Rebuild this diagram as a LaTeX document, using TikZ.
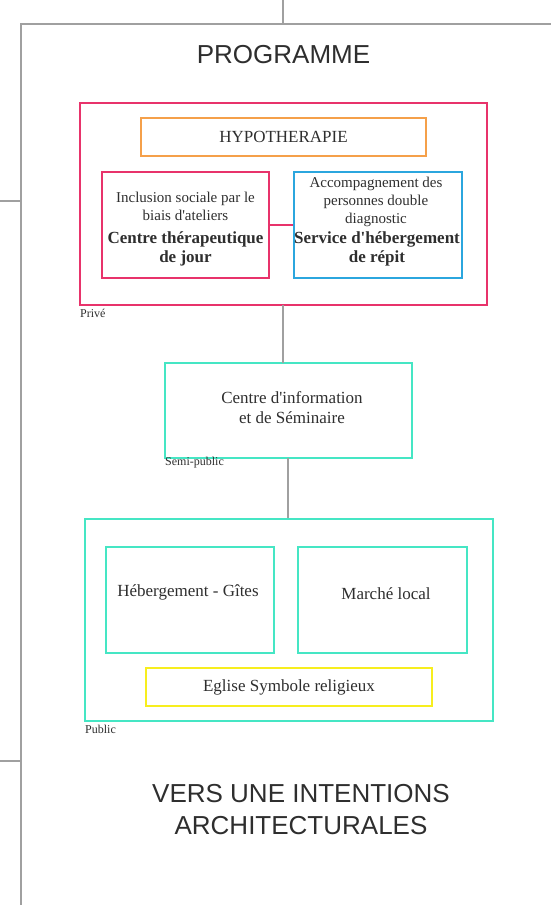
\documentclass[tikz,border=0pt]{standalone}
\usepackage{fontspec}
\setmainfont{Liberation Serif}[Ligatures=TeXOff]
\newfontfamily\titlefont{Liberation Sans}
\definecolor{txt}{HTML}{2E2E2E}
\definecolor{pinkc}{HTML}{E8336B}
\definecolor{orangec}{HTML}{F5A04A}
\definecolor{bluec}{HTML}{2BA6DE}
\definecolor{tealc}{HTML}{45E6C4}
\definecolor{yellowc}{HTML}{F7EE1E}
\definecolor{grayline}{HTML}{A0A0A0}
\begin{document}
\begin{tikzpicture}[x=1pt,y=-1pt,
  box/.style={draw=#1,line width=2pt,rectangle,inner sep=0pt,text=txt,align=center},
  gline/.style={draw=grayline,line width=1.5pt},
  zone/.style={text=txt,font=\fontsize{12}{13}\selectfont,anchor=north west,inner sep=0pt},
  title/.style={text=txt,font=\titlefont\fontsize{26}{32}\selectfont,align=center,inner sep=0pt},
  reg/.style={font=\fontsize{17}{20}\selectfont},
  small/.style={font=\fontsize{15}{18}\selectfont}]
\useasboundingbox (0,0) rectangle (551,905);
% frame
\coordinate (ftl) at (21,24);
\coordinate (ftr) at (551,24);
\coordinate (fbl) at (21,905);
\coordinate (top) at (283,0);
\coordinate (topj) at (283,24);
\coordinate (s1a) at (0,201);
\coordinate (s1b) at (21,201);
\coordinate (s2a) at (0,761);
\coordinate (s2b) at (21,761);
\draw[gline] (fbl) -- (ftl) -- (ftr);
\draw[gline] (top) -- (topj);
\draw[gline] (s1a) -- (s1b);
\draw[gline] (s2a) -- (s2b);

\node[title] (prog) at (283.5,55) {PROGRAMME};

% Prive
\node[box=pinkc,minimum width=407pt,minimum height=202pt] (prive) at (283.5,204) {};
\node[box=orangec,minimum width=285pt,minimum height=38pt,reg] (hypo) at (283.5,137) {HYPOTHERAPIE};
\node[box=pinkc,minimum width=167pt,minimum height=106pt] (ctj) at (185.5,225) {};
\node[box=bluec,minimum width=168pt,minimum height=106pt] (seh) at (378,225) {};
\node[text=txt,small,align=center,inner sep=0pt] (ctjd) at (185.5,206) {Inclusion sociale par le\\biais d'ateliers};
\node[text=txt,font=\bfseries\fontsize{17}{19}\selectfont,align=center,inner sep=0pt] (ctjt) at (185.5,248.5) {Centre thérapeutique\\de jour};
\node[text=txt,small,align=center,inner sep=0pt] (sehd) at (376,201.5) {Accompagnement des\\personnes double\\diagnostic};
\node[text=txt,font=\bfseries\fontsize{17}{19}\selectfont,align=center,inner sep=0pt] (seht) at (377,248.5) {Service d'hébergement\\de répit};
\draw[draw=pinkc,line width=2pt] (ctj.east) -- (seh.west);
\node[zone] (lprive) at (80,309) {Privé};

% Semi-public
\node[box=tealc,minimum width=247pt,minimum height=95pt,reg] (semi) at (288.5,410.5) {};
\node[text=txt,reg,align=center,inner sep=0pt] (semit) at (292,408) {Centre d'information\\et de Séminaire};
\node[zone] (lsemi) at (165,457) {Semi-public};
\draw[gline] (283,305) -- (283,363);
\draw[gline] (288,458) -- (288,519);

% Public
\node[box=tealc,minimum width=408pt,minimum height=202pt] (pub) at (289,620) {};
\node[box=tealc,minimum width=168pt,minimum height=106pt] (heb) at (190,600) {};
\node[text=txt,reg,inner sep=0pt] (hebt) at (188,592) {Hébergement - Gîtes};
\node[box=tealc,minimum width=169pt,minimum height=106pt] (marche) at (382.5,600) {};
\node[text=txt,reg,inner sep=0pt] (marchet) at (386,594) {Marché local};
\node[box=yellowc,minimum width=286pt,minimum height=38pt,reg] (eglise) at (289,687) {Eglise Symbole religieux};
\node[zone] (lpub) at (85,725) {Public};

\node[title] (vers) at (301,810) {VERS UNE INTENTIONS\\ARCHITECTURALES};
\end{tikzpicture}
\end{document}
